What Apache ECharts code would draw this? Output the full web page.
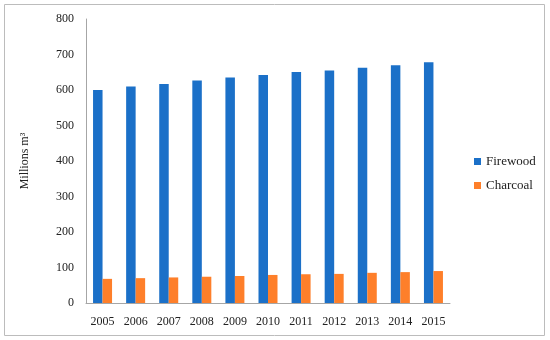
<!DOCTYPE html>
<html>
<head>
<meta charset="utf-8">
<script src="https://cdn.jsdelivr.net/npm/echarts@6/dist/echarts.min.js"></script>
<style>
html,body{margin:0;padding:0;background:#fff;}
#c{width:550px;height:340px;}
</style>
</head>
<body>
<div id="c"></div>
<script>
var years = ['2005','2006','2007','2008','2009','2010','2011','2012','2013','2014','2015'];
var firewood = [600, 610, 617, 627, 635, 642, 651, 655, 663, 670, 678];
var charcoal = [68, 70, 72, 74, 76, 79, 81, 82, 85, 87, 90];
var yTicks = [0, 100, 200, 300, 400, 500, 600, 700, 800];

var chart = echarts.init(document.getElementById('c'), null, {renderer: 'canvas'});
var font = '"Liberation Serif", "Times New Roman", serif';
chart.setOption({
  animation: false,
  textStyle: {fontFamily: font},
  graphic: [{
    type: 'rect',
    shape: {x: 4.5, y: 4.5, width: 540, height: 331},
    style: {fill: 'none', stroke: '#bcbcbc', lineWidth: 1},
    silent: true
  }],
  grid: {left: 86, right: 100, top: 19, bottom: 37},
  legend: {
    orient: 'vertical',
    left: 469,
    top: 150,
    itemWidth: 7,
    itemHeight: 7,
    itemGap: 11,
    icon: 'rect',
    data: ['Firewood', 'Charcoal'],
    textStyle: {fontFamily: font, fontSize: 13, color: '#222'}
  },
  xAxis: {
    type: 'category',
    data: years,
    axisLine: {lineStyle: {color: '#a6a6a6', width: 1}},
    axisTick: {show: false},
    axisLabel: {fontFamily: font, fontSize: 12, color: '#222', margin: 13}
  },
  yAxis: {
    type: 'value',
    min: yTicks[0],
    max: yTicks[yTicks.length - 1],
    interval: 100,
    name: 'Millions m\u00B3',
    nameLocation: 'middle',
    nameGap: 55,
    nameTextStyle: {fontFamily: font, fontSize: 12, color: '#222'},
    axisLine: {show: true, lineStyle: {color: '#a6a6a6', width: 1}},
    axisTick: {show: false},
    splitLine: {show: false},
    axisLabel: {fontFamily: font, fontSize: 12, color: '#222', margin: 12}
  },
  series: [
    {name: 'Firewood', type: 'bar', data: firewood, barWidth: 9.5, barGap: '0%',
     itemStyle: {color: '#1b70c8'}},
    {name: 'Charcoal', type: 'bar', data: charcoal, barWidth: 9.5,
     itemStyle: {color: '#fe7f2a'}}
  ]
});
</script>
</body>
</html>
